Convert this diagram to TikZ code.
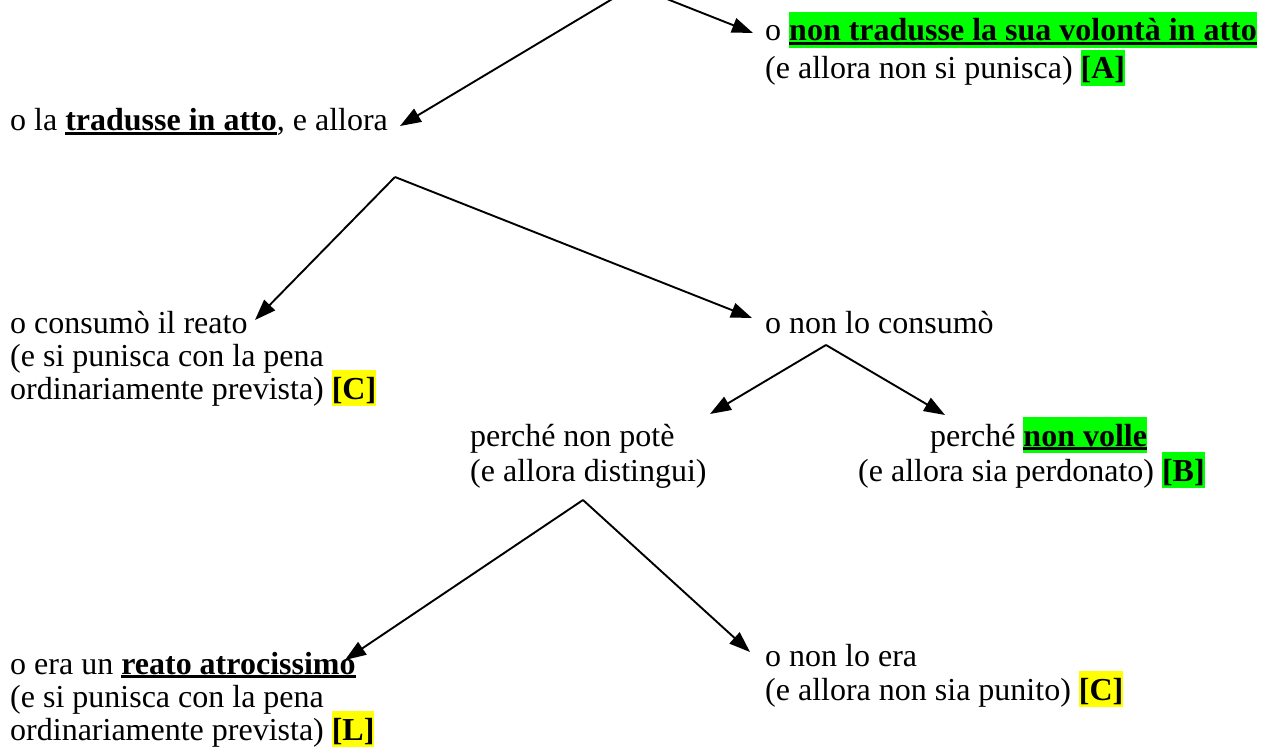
\documentclass[tikz,border=0pt]{standalone}
\usepackage{fontspec}
\setmainfont{Liberation Serif}
\usetikzlibrary{arrows.meta}
\definecolor{hlgreen}{RGB}{0,255,0}
\definecolor{hlyellow}{RGB}{255,255,0}
\newcommand\hlstrut{\rule[-0.216em]{0pt}{1.107em}}
\newcommand\hlbox[2]{{\setlength{\fboxsep}{0pt}\colorbox{#1}{\hlstrut#2}}}
\newcommand\myul[1]{{\setbox0=\hbox{#1}\rlap{\rule[-0.13em]{\wd0}{0.09em}}\box0}}
\begin{document}
\begin{tikzpicture}[x=1pt,y=-1pt,
  txt/.style={inner sep=0pt, anchor=base west, font=\fontsize{32}{36.8}\selectfont},
  arr/.style={line width=1.9pt, -{Triangle[length=21pt,width=15pt]}}]
\useasboundingbox (0,0) rectangle (1269,749);
\clip (0,0) rectangle (1269,749);
% text
\node[txt] (a1) at (765,41) {o \hlbox{hlgreen}{\myul{\textbf{non tradusse la sua volontà in atto}}}};
\node[txt] (a2) at (765,79) {(e allora non si punisca) \hlbox{hlgreen}{\textbf{[A]}}};
\node[txt] (t1) at (10,131) {o la \myul{\textbf{tradusse in atto}}, e allora};
\node[txt] (c1) at (10,333) {o consumò il reato};
\node[txt] (c2) at (10,366) {(e si punisca con la pena};
\node[txt] (c3) at (10,399) {ordinariamente prevista) \hlbox{hlyellow}{\textbf{[C]}}};
\node[txt] (n1) at (765,333) {o non lo consumò};
\node[txt] (p1) at (470,446) {perché non potè};
\node[txt] (p2) at (470,481) {(e allora distingui)};
\node[txt] (v1) at (930,446) {perché \hlbox{hlgreen}{\myul{\textbf{non volle}}}};
\node[txt] (v2) at (858,481) {(e allora sia perdonato) \hlbox{hlgreen}{\textbf{[B]}}};
\node[txt] (l1) at (10,674) {o era un \myul{\textbf{reato atrocissimo}}};
\node[txt] (l2) at (10,707) {(e si punisca con la pena};
\node[txt] (l3) at (10,740) {ordinariamente prevista) \hlbox{hlyellow}{\textbf{[L]}}};
\node[txt] (e1) at (765,666) {o non lo era};
\node[txt] (e2) at (765,700) {(e allora non sia punito) \hlbox{hlyellow}{\textbf{[C]}}};
% branch points and arrow ends
\coordinate (r0) at (634,-14);
\coordinate (r1) at (395,177);
\coordinate (r2) at (826,345);
\coordinate (r3) at (583,500);
\coordinate (k1) at (400,126);
\coordinate (k2) at (753,33);
\coordinate (k3) at (255,320);
\coordinate (k4) at (752,318);
\coordinate (k5) at (710,414);
\coordinate (k6) at (945,415);
\coordinate (k7) at (345,660);
\coordinate (k8) at (750,652);
\draw[arr] (r0) -- (k1);
\draw[arr] (r0) -- (k2);
\draw[arr] (r1) -- (k3);
\draw[arr] (r1) -- (k4);
\draw[arr] (r2) -- (k5);
\draw[arr] (r2) -- (k6);
\draw[arr] (r3) -- (k7);
\draw[arr] (r3) -- (k8);
\end{tikzpicture}
\end{document}
